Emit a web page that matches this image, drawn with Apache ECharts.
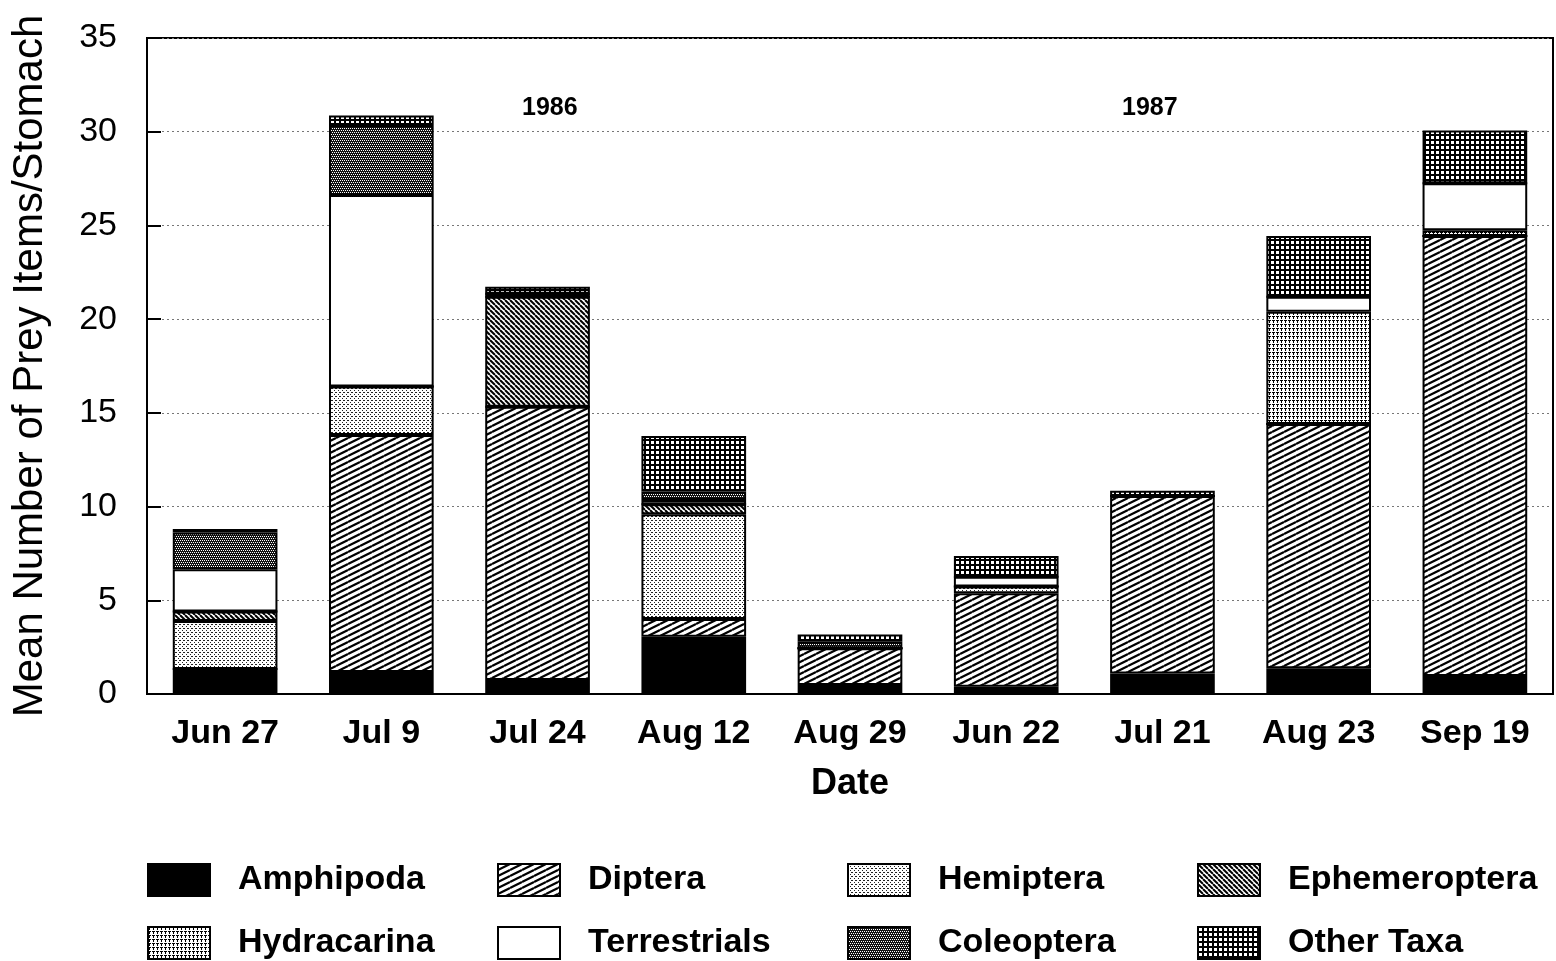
<!DOCTYPE html>
<html>
<head>
<meta charset="utf-8">
<script src="https://cdn.jsdelivr.net/npm/echarts@6/dist/echarts.min.js"></script>
<style>
  html, body { margin: 0; padding: 0; background: #fff; }
  #main { width: 1556px; height: 961px; }
</style>
</head>
<body>
<div id="main"></div>
<script>
// dates sampled (1986 then 1987)
const categories = ['Jun 27', 'Jul 9', 'Jul 24', 'Aug 12', 'Aug 29', 'Jun 22', 'Jul 21', 'Aug 23', 'Sep 19'];
const yTicks = [0, 5, 10, 15, 20, 25, 30, 35];

// mean prey items per stomach, by taxon (stack order bottom -> top)
const amphipoda     = [1.33, 1.17, 0.75, 3.06, 0.48, 0.39, 1.10, 1.37, 0.96];
const diptera       = [0,   12.65, 14.58, 0.94, 1.96, 4.98, 9.47, 13.04, 23.48];
const hemiptera     = [2.57, 2.58, 0,    5.59, 0,    0.36, 0,    0,    0];
const ephemeroptera = [0.50, 0,    5.87, 0.53, 0,    0,    0,    0,    0];
const hydracarina   = [0,    0,    0,    0,    0,    0,    0,    5.99, 0.30];
const terrestrials  = [2.26, 10.23, 0.15, 0.23, 0,   0.53, 0,    0.80, 2.51];
const coleoptera    = [1.95, 3.73, 0,    0.45, 0.35, 0,    0,    0,    0];
const otherTaxa     = [0.20, 0.50, 0.38, 2.97, 0.39, 1.10, 0.28, 3.24, 2.81];

const FONT = '"Liberation Sans", Arial, sans-serif';

function pattern(w, h, draw) {
  const c = document.createElement('canvas');
  c.width = w; c.height = h;
  const ctx = c.getContext('2d');
  ctx.fillStyle = '#fff';
  ctx.fillRect(0, 0, w, h);
  draw(ctx);
  return { image: c, repeat: 'repeat' };
}

const fills = {
  amphipoda: '#000',
  diptera: pattern(12, 6, ctx => {
    ctx.strokeStyle = '#000'; ctx.lineWidth = 2.2;
    for (let k = -1; k <= 1; k++) {
      ctx.beginPath(); ctx.moveTo(0, 6 + 6 * k); ctx.lineTo(12, 6 * k); ctx.stroke();
    }
  }),
  hemiptera: pattern(4, 4, ctx => {
    ctx.fillStyle = '#222';
    ctx.fillRect(0, 0, 1, 1); ctx.fillRect(2, 2, 1, 1); ctx.fillRect(3, 0, 1, 1);
  }),
  ephemeroptera: pattern(5, 5, ctx => {
    ctx.strokeStyle = '#000'; ctx.lineWidth = 2;
    for (let k = -1; k <= 1; k++) {
      ctx.beginPath(); ctx.moveTo(5 * k, 0); ctx.lineTo(5 * k + 5, 5); ctx.stroke();
    }
  }),
  hydracarina: pattern(4, 4, ctx => {
    ctx.fillStyle = '#000';
    ctx.fillRect(0, 0, 3, 1); ctx.fillRect(1, 0, 1, 3);
  }),
  terrestrials: '#fff',
  coleoptera: pattern(4, 4, ctx => {
    ctx.fillStyle = '#111'; ctx.fillRect(0, 0, 4, 4);
    ctx.fillStyle = '#fff';
    ctx.fillRect(0, 0, 1, 1); ctx.fillRect(2, 0, 1, 1); ctx.fillRect(1, 2, 1, 1); ctx.fillRect(3, 2, 1, 1);
  }),
  otherTaxa: pattern(5, 5, ctx => {
    ctx.fillStyle = '#000'; ctx.fillRect(0, 0, 5, 5);
    ctx.fillStyle = '#fff'; ctx.fillRect(1, 1, 3, 3);
  })
};

const taxa = [
  ['Amphipoda', amphipoda, fills.amphipoda],
  ['Diptera', diptera, fills.diptera],
  ['Hemiptera', hemiptera, fills.hemiptera],
  ['Ephemeroptera', ephemeroptera, fills.ephemeroptera],
  ['Hydracarina', hydracarina, fills.hydracarina],
  ['Terrestrials', terrestrials, fills.terrestrials],
  ['Coleoptera', coleoptera, fills.coleoptera],
  ['Other Taxa', otherTaxa, fills.otherTaxa]
];

// legend order: row 1 = first four, row 2 = last four
const legendOrder = ['Amphipoda', 'Diptera', 'Hemiptera', 'Ephemeroptera',
                     'Hydracarina', 'Terrestrials', 'Coleoptera', 'Other Taxa'];
const legends = legendOrder.map((name, i) => ({
  data: [name],
  left: 147 + (i % 4) * 350,
  top: i < 4 ? 863 : 926,
  padding: 0,
  icon: 'rect',
  itemWidth: 62,
  itemHeight: 32,
  selectedMode: false,
  textStyle: { fontFamily: FONT, fontSize: 34, fontWeight: 'bold', color: '#000', padding: [0, 0, 0, 23] }
}));

const chart = echarts.init(document.getElementById('main'));

chart.setOption({
  animation: false,
  backgroundColor: '#fff',
  title: [
    { text: '1986', left: 517, top: 91, textStyle: { fontFamily: FONT, fontSize: 25, fontWeight: 'bold', color: '#000' } },
    { text: '1987', left: 1117, top: 91, textStyle: { fontFamily: FONT, fontSize: 25, fontWeight: 'bold', color: '#000' } }
  ],
  legend: legends,
  grid: {
    left: 147, right: 3, top: 38, bottom: 267,
    outerBoundsMode: 'none',
    show: true, borderColor: '#000', borderWidth: 2
  },
  xAxis: {
    type: 'category',
    data: categories,
    name: 'Date',
    nameLocation: 'middle',
    nameGap: 72,
    nameTextStyle: { fontFamily: FONT, fontSize: 36, fontWeight: 'bold', color: '#000' },
    axisLine: { lineStyle: { color: '#000', width: 2 } },
    axisTick: { show: false },
    axisLabel: { fontFamily: FONT, fontSize: 34, fontWeight: 'bold', color: '#000', margin: 23 },
    splitLine: {
      show: true,
      interval: (i) => i === 5,
      lineStyle: { color: '#000', width: 2, type: 'solid' }
    }
  },
  yAxis: {
    type: 'value',
    min: yTicks[0],
    max: yTicks[yTicks.length - 1],
    interval: 5,
    name: 'Mean Number of Prey Items/Stomach',
    nameLocation: 'middle',
    nameGap: 96,
    nameTextStyle: { fontFamily: FONT, fontSize: 42, color: '#000' },
    axisLine: { show: true, lineStyle: { color: '#000', width: 2 } },
    axisTick: { show: true, inside: true, length: 14, lineStyle: { color: '#000', width: 2 } },
    axisLabel: { fontFamily: FONT, fontSize: 34, color: '#000', margin: 30 },
    splitLine: { show: true, lineStyle: { color: '#777', width: 1, type: [2, 3] } }
  },
  series: taxa.map(([name, values, fill]) => ({
    name,
    type: 'bar',
    stack: 'prey',
    data: values,
    barWidth: '67%',
    itemStyle: { color: fill, borderColor: '#000', borderWidth: 2 }
  }))
});
</script>
</body>
</html>
